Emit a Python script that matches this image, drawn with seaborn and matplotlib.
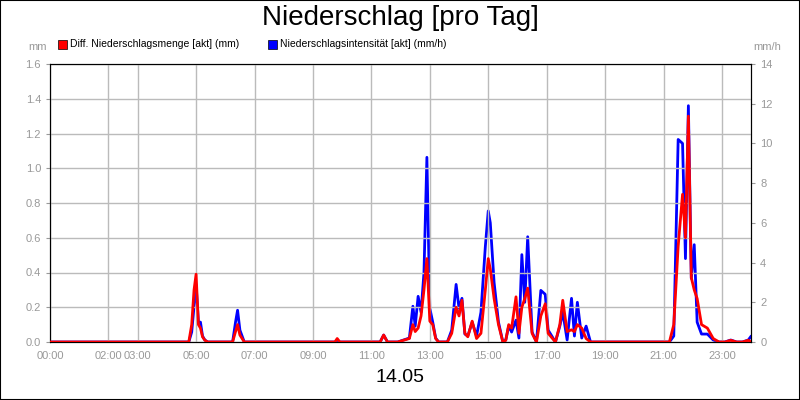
import matplotlib
matplotlib.use("Agg")
import matplotlib.pyplot as plt
import seaborn as sns
import pandas as pd

# time in hours, red = Diff. Niederschlagsmenge (mm), blue = Intensität (mm/h)
hours = [0.0, 4.75, 4.85, 4.93, 5.0, 5.08, 5.15, 5.22, 5.3, 5.4, 5.5,
         6.25, 6.35, 6.42, 6.5, 6.65,
         9.75, 9.83, 9.92,
         11.3, 11.42, 11.55,
         11.9, 12.1, 12.3, 12.42, 12.5, 12.6, 12.7, 12.8, 12.9, 13.0, 13.1, 13.2, 13.3,
         13.6, 13.75, 13.9, 14.0, 14.1, 14.2, 14.3, 14.45, 14.6, 14.75, 14.9, 15.0, 15.07, 15.2, 15.35, 15.5,
         15.6, 15.7, 15.8, 15.95, 16.05, 16.15, 16.25, 16.35, 16.5, 16.65, 16.8, 16.95, 17.05,
         17.3, 17.45, 17.55, 17.7, 17.85, 17.95, 18.05, 18.2, 18.35, 18.5, 18.6, 18.75,
         21.2, 21.35, 21.5, 21.65, 21.75, 21.85, 21.95, 22.05, 22.15, 22.3, 22.5, 22.7, 22.9,
         23.1, 23.3, 23.5, 23.7, 23.9, 24.0]
red = [0.0, 0.0, 0.1, 0.3, 0.39, 0.1, 0.08, 0.03, 0.01, 0.0, 0.0,
       0.0, 0.06, 0.1, 0.04, 0.0,
       0.0, 0.02, 0.0,
       0.0, 0.04, 0.0,
       0.0, 0.01, 0.02, 0.1, 0.06, 0.08, 0.15, 0.3, 0.48, 0.12, 0.1, 0.02, 0.0,
       0.0, 0.05, 0.2, 0.15, 0.24, 0.05, 0.03, 0.12, 0.02, 0.05, 0.3, 0.48, 0.42, 0.25, 0.1, 0.0,
       0.01, 0.1, 0.08, 0.26, 0.05, 0.2, 0.25, 0.31, 0.05, 0.0, 0.15, 0.22, 0.05,
       0.0, 0.1, 0.24, 0.06, 0.07, 0.06, 0.1, 0.08, 0.02, 0.0, 0.0, 0.0,
       0.0, 0.1, 0.55, 0.85, 0.6, 1.3, 0.37, 0.3, 0.25, 0.1, 0.08, 0.02, 0.0,
       0.0, 0.01, 0.0, 0.0, 0.01, 0.0]
blue = [0.0, 0.0, 0.5, 1.8, 2.9, 1.0, 1.0, 0.3, 0.1, 0.0, 0.0,
        0.0, 1.0, 1.6, 0.6, 0.0,
        0.0, 0.0, 0.0,
        0.0, 0.35, 0.0,
        0.0, 0.1, 0.2, 1.8, 0.8, 2.3, 1.5, 3.5, 9.3, 1.7, 1.0, 0.2, 0.0,
        0.0, 0.6, 2.9, 1.7, 2.2, 0.4, 0.3, 1.0, 0.3, 1.5, 4.8, 6.6, 6.0, 3.0, 1.0, 0.0,
        0.1, 0.8, 0.5, 1.1, 0.2, 4.4, 2.0, 5.3, 0.5, 0.0, 2.6, 2.4, 0.6,
        0.0, 0.8, 1.5, 0.1, 2.2, 0.3, 2.0, 0.2, 0.8, 0.0, 0.0, 0.0,
        0.0, 0.3, 10.2, 10.0, 4.2, 11.9, 3.2, 4.9, 1.0, 0.4, 0.4, 0.1, 0.0,
        0.0, 0.1, 0.0, 0.0, 0.1, 0.3]
tick_hours = [0, 2, 3, 5, 7, 9, 11, 13, 15, 17, 19, 21, 23]
tick_labels = ["%02d:00" % h for h in tick_hours]

df = pd.DataFrame({"h": hours, "red": red, "blue": blue})

sns.set_style("white")
plt.rcParams["font.family"] = ["Liberation Sans", "DejaVu Sans"]
fig = plt.figure(figsize=(8, 4), dpi=100)
fig.patches.append(plt.Rectangle((0, 0), 1, 1, transform=fig.transFigure,
                                 fill=False, edgecolor="black", linewidth=1.5))
ax = fig.add_axes([0.0625, 0.145, 0.8765, 0.695])
ax2 = ax.twinx()

sns.lineplot(data=df, x="h", y="red", ax=ax, color="#ff0000", linewidth=2, zorder=3)
sns.lineplot(data=df, x="h", y="blue", ax=ax2, color="#0000ff", linewidth=2, zorder=2)
ax.set_zorder(ax2.get_zorder() + 1)
ax.patch.set_visible(False)

ax.set_xlim(0, 24)
ax.set_ylim(0, 1.6)
ax2.set_ylim(0, 14)
ax.set_yticks([0, 0.2, 0.4, 0.6, 0.8, 1.0, 1.2, 1.4, 1.6])
ax.set_yticklabels(["0.0", "0.2", "0.4", "0.6", "0.8", "1.0", "1.2", "1.4", "1.6"])
ax2.set_yticks(range(0, 15, 2))
ax.set_xticks(tick_hours)
ax.set_xticklabels(tick_labels)
ax.grid(True, color="#bbbbbb", linewidth=1)
for a in (ax, ax2):
    a.set_xlabel("")
    a.set_ylabel("")
    a.tick_params(colors="#999999", labelsize=8, length=3)
    for s in a.spines.values():
        s.set_color("black")

fig.text(0.5, 0.955, "Niederschlag [pro Tag]", ha="center", va="center", fontsize=20, color="black")
fig.text(0.5, 0.055, "14.05", ha="center", va="center", fontsize=14, color="black")
fig.text(0.035, 0.875, "mm", color="#999999", fontsize=8, ha="left")
fig.text(0.942, 0.875, "mm/h", color="#999999", fontsize=8, ha="left")

fig.patches.append(plt.Rectangle((0.073, 0.878), 0.011, 0.022, transform=fig.transFigure,
                                 facecolor="#ff0000", edgecolor="black", linewidth=0.5))
fig.text(0.088, 0.889, "Diff. Niederschlagsmenge [akt] (mm)", fontsize=7.5, va="center", color="black")
fig.patches.append(plt.Rectangle((0.335, 0.878), 0.011, 0.022, transform=fig.transFigure,
                                 facecolor="#0000ff", edgecolor="black", linewidth=0.5))
fig.text(0.350, 0.889, "Niederschlagsintensität [akt] (mm/h)", fontsize=7.5, va="center", color="black")

fig.savefig("out.png", dpi=100)
